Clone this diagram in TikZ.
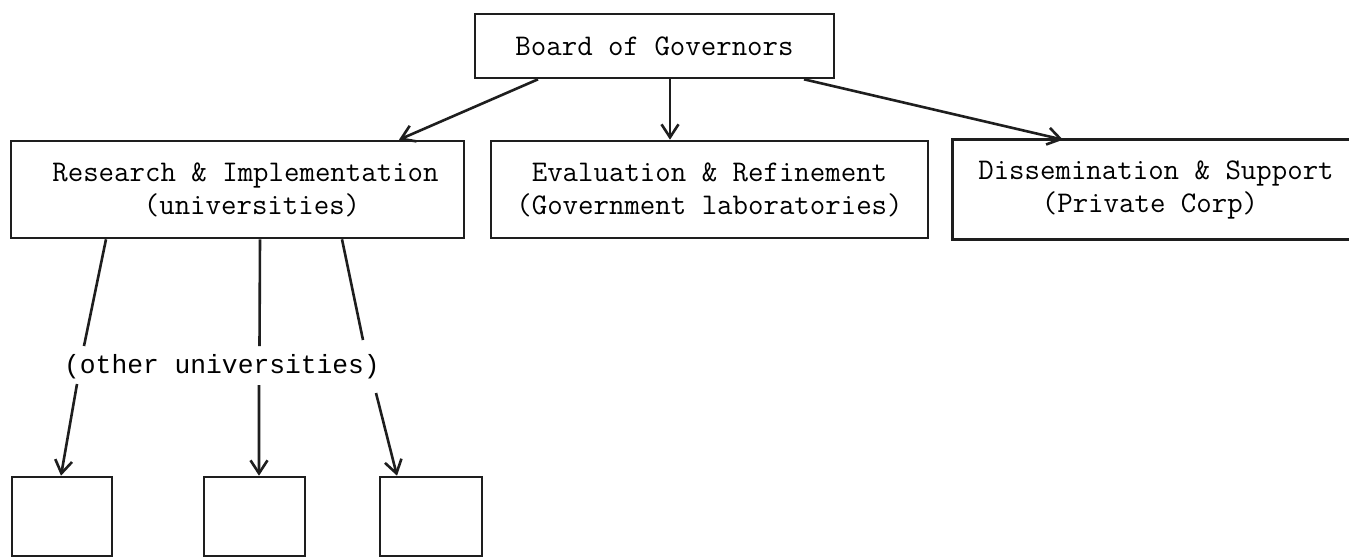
\documentclass[tikz,border=0pt]{standalone}
\usepackage{fontspec}
\newfontfamily\courfont{Liberation Mono}
\usetikzlibrary{arrows.meta}
\definecolor{ink}{RGB}{30,30,30}
\tikzset{
  box/.style={draw=ink, line width=2.6pt, rectangle, inner sep=0pt, align=center,
    font=\ttfamily\fontsize{30}{31}\selectfont, text=black},
  openbox/.style={box, draw=none},
  edgeline/.style={draw=ink, line width=2.6pt},
  conn/.style={draw=ink, line width=2.6pt, -{Straight Barb[length=13pt,width=17pt,line width=2.6pt]}},
  lbl/.style={font=\courfont\fontsize{26.3}{28}\selectfont, text=black, inner sep=0pt}
}
\begin{document}
\begin{tikzpicture}[x=1pt,y=-1pt]
\useasboundingbox[fill=white] (0,0) rectangle (1349,558);
% boxes
\node[box, minimum width=359pt, minimum height=64pt] (board) at (654.5,46) {Board of Governors};
\node[box, minimum width=453pt, minimum height=97pt] (ri) at (237.5,189.5)
  {\hspace*{16pt}Research \& Implementation\\[2pt]\hspace*{29pt}(universities)};
\node[box, minimum width=437pt, minimum height=97pt] (er) at (709.5,189.5)
  {Evaluation \& Refinement\\[2pt](Government laboratories)};
\node[openbox, minimum width=395pt, minimum height=97pt] (ds) at (1151.5,189.5)
  {\hspace*{9pt}Dissemination \& Support\\[2pt]\hspace*{-3pt}(Private Corp)};
\draw[edgeline] ([xshift=2pt]ds.north east) -- ([xshift=-1.3pt]ds.north west);
\draw[edgeline] ([yshift=-1.3pt]ds.north west) -- ([yshift=1.3pt]ds.south west);
\draw[edgeline] ([xshift=-1.3pt]ds.south west) -- ([xshift=2pt]ds.south east);
\node[box, minimum width=100pt, minimum height=79pt] (b1) at (62,516.5) {};
\node[box, minimum width=101pt, minimum height=79pt] (b2) at (254.5,516.5) {};
\node[box, minimum width=102pt, minimum height=79pt] (b3) at (431,516.5) {};
% label
\node[lbl] (ou) at (222,367) {(other universities)};
% break points around the label
\coordinate (m1a) at (84,346);
\coordinate (m1b) at (77,384);
\coordinate (m2a) at (259.5,346);
\coordinate (m2b) at (259,385);
\coordinate (m3a) at (363,340);
\coordinate (m3b) at (376,393);
% connectors from the board
\draw[conn] ([xshift=-116.5pt]board.south) -- ([xshift=161.5pt]ri.north);
\draw[conn] ([xshift=15.5pt]board.south) -- ([xshift=-39.5pt]er.north);
\draw[conn] ([xshift=149.5pt]board.south) -- ([xshift=-88.5pt]ds.north);
% connectors to the small boxes
\draw[conn] ([xshift=-131.5pt]ri.south) -- (m1a) (m1b) -- ([xshift=-1pt]b1.north);
\draw[conn] ([xshift=22.5pt]ri.south) -- (m2a) (m2b) -- ([xshift=4.5pt]b2.north);
\draw[conn] ([xshift=104.5pt]ri.south) -- (m3a) (m3b) -- ([xshift=-34pt]b3.north);
\end{tikzpicture}
\end{document}
